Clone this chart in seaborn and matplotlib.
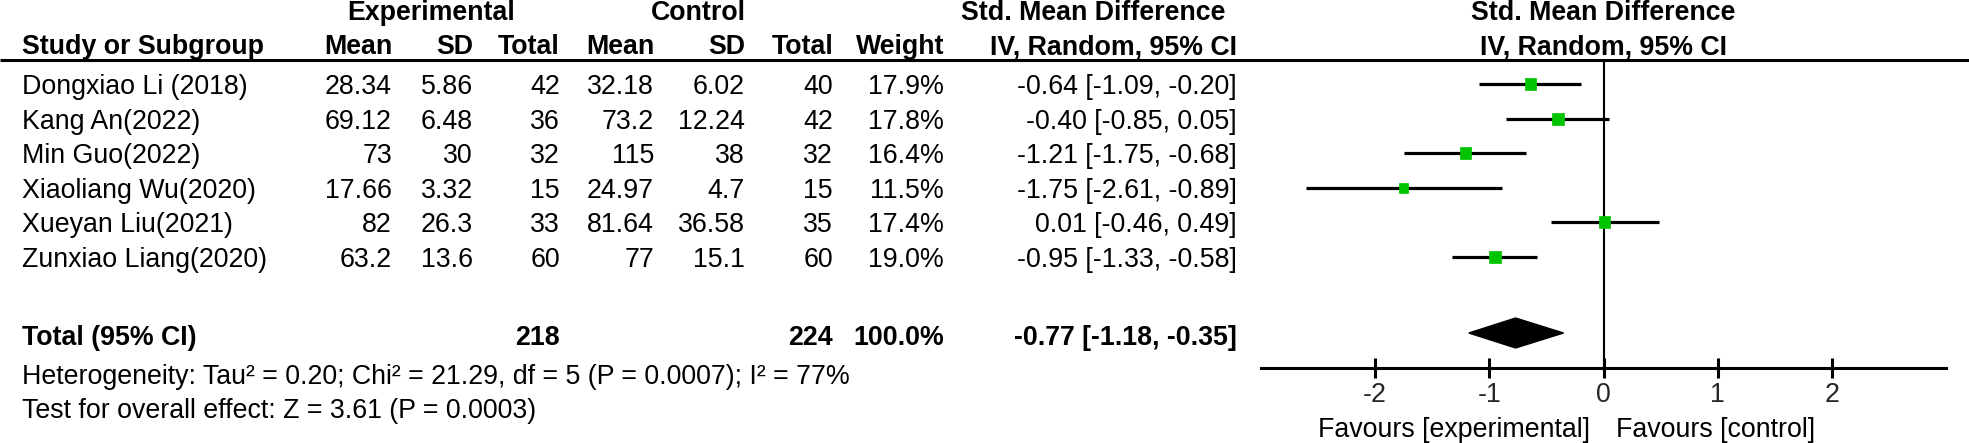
import matplotlib
matplotlib.use("Agg")
import matplotlib.pyplot as plt
import seaborn as sns
import pandas as pd

# ---------------- data ----------------
studies = ["Dongxiao Li (2018)", "Kang An(2022)", "Min Guo(2022)",
           "Xiaoliang Wu(2020)", "Xueyan Liu(2021)", "Zunxiao Liang(2020)"]
exp_mean = ["28.34", "69.12", "73", "17.66", "82", "63.2"]
exp_sd = ["5.86", "6.48", "30", "3.32", "26.3", "13.6"]
exp_total = [42, 36, 32, 15, 33, 60]
ctl_mean = ["32.18", "73.2", "115", "24.97", "81.64", "77"]
ctl_sd = ["6.02", "12.24", "38", "4.7", "36.58", "15.1"]
ctl_total = [40, 42, 32, 15, 35, 60]
weight = [17.9, 17.8, 16.4, 11.5, 17.4, 19.0]
smd = [-0.64, -0.40, -1.21, -1.75, 0.01, -0.95]
ci_low = [-1.09, -0.85, -1.75, -2.61, -0.46, -1.33]
ci_high = [-0.20, 0.05, -0.68, -0.89, 0.49, -0.58]

total_exp = 218
total_ctl = 224
total_weight = "100.0%"
pooled_smd = -0.77
pooled_low = -1.18
pooled_high = -0.35

heterogeneity = "Heterogeneity: Tau\u00b2 = 0.20; Chi\u00b2 = 21.29, df = 5 (P = 0.0007); I\u00b2 = 77%"
overall = "Test for overall effect: Z = 3.61 (P = 0.0003)"
tick_values = [-2, -1, 0, 1, 2]
tick_labels = ["-2", "-1", "0", "1", "2"]

# ---------------- style ----------------
sns.set_theme(style="white")
plt.rcParams["font.family"] = ["Liberation Sans", "DejaVu Sans"]
plt.rcParams["axes.unicode_minus"] = False

W, H = 1969, 443
DPI = 100
FS = 19.3
fig = plt.figure(figsize=(W / DPI, H / DPI), dpi=DPI)
fig.patch.set_facecolor("white")

# table axes in pixel coordinates
ax = fig.add_axes([0, 0, 1, 1])
ax.set_xlim(0, W)
ax.set_ylim(H, 0)
ax.axis("off")

# forest plot axes
x_left_px, x_right_px = 1261, 1946
axf = fig.add_axes([x_left_px / W, 0, (x_right_px - x_left_px) / W, 1])
axf.set_xlim(-3, 3)
axf.set_ylim(H, 0)
axf.patch.set_alpha(0)

row_y = [87, 122, 156, 191, 225, 260]
total_y = 338
header1_y = 13
header2_y = 47
line_y = 60
axis_y = 368

# header rows
bold = dict(fontsize=FS, fontweight="bold", va="center", color="black")
norm = dict(fontsize=FS, va="center", color="black")

ax.text(431, header1_y, "Experimental", ha="center", **bold)
ax.text(698, header1_y, "Control", ha="center", **bold)
ax.text(1225, header1_y, "Std. Mean Difference", ha="right", **bold)

col_right = [392, 473, 560, 654, 745, 833, 944, 1237]
ax.text(22, header2_y, "Study or Subgroup", ha="left", **bold)
for x, lab in zip(col_right, ["Mean", "SD", "Total", "Mean", "SD", "Total",
                              "Weight", "IV, Random, 95% CI"]):
    ax.text(x, header2_y, lab, ha="right", **bold)

axf.text(0, header1_y, "Std. Mean Difference", ha="center", **bold)
axf.text(0, header2_y, "IV, Random, 95% CI", ha="center", **bold)

ax.plot([0, W], [line_y, line_y], color="black", lw=2.2, solid_capstyle="butt")

# study rows
for i, y in enumerate(row_y):
    vals = [exp_mean[i], exp_sd[i], str(exp_total[i]), ctl_mean[i], ctl_sd[i],
            str(ctl_total[i]), f"{weight[i]:.1f}%",
            f"{smd[i]:.2f} [{ci_low[i]:.2f}, {ci_high[i]:.2f}]"]
    ax.text(22, y, studies[i], ha="left", **norm)
    for x, v in zip(col_right, vals):
        ax.text(x, y, v, ha="right", **norm)

# total row
ax.text(22, total_y, "Total (95% CI)", ha="left", **bold)
ax.text(col_right[2], total_y, str(total_exp), ha="right", **bold)
ax.text(col_right[5], total_y, str(total_ctl), ha="right", **bold)
ax.text(col_right[6], total_y, total_weight, ha="right", **bold)
ax.text(col_right[7], total_y,
        f"{pooled_smd:.2f} [{pooled_low:.2f}, {pooled_high:.2f}]", ha="right", **bold)

ax.text(22, 377, heterogeneity, ha="left", **norm)
ax.text(22, 411, overall, ha="left", **norm)

# ---------------- forest plot ----------------
marker_y = [y - 3 for y in row_y]
axf.plot([0, 0], [line_y, axis_y], color="black", lw=1.5, zorder=1)
axf.hlines(marker_y, ci_low, ci_high, color="black", lw=2.3, zorder=2)

df = pd.DataFrame({"smd": smd, "y": marker_y, "w": weight})
sns.scatterplot(data=df, x="smd", y="y", size="w", sizes=(45, 75), marker="s",
                color="#00C400", edgecolor="#00C400", linewidth=0.5,
                legend=False, ax=axf, zorder=3)
axf.set_ylim(H, 0)
axf.set_xlim(-3, 3)

dy = 15
dc = total_y - 5
axf.fill([pooled_low, pooled_smd, pooled_high, pooled_smd],
         [dc, dc - dy, dc, dc + dy], color="black", zorder=3)

# axis
for s in ["top", "left", "right"]:
    axf.spines[s].set_visible(False)
axf.spines["bottom"].set_position(("data", axis_y))
axf.spines["bottom"].set_linewidth(2.2)
axf.spines["bottom"].set_color("black")
axf.set_xticks(tick_values)
axf.set_xticklabels(tick_labels)
axf.set_yticks([])
axf.tick_params(axis="x", direction="inout", length=14, width=2.2,
                color="black", labelsize=FS, pad=3, bottom=True)
axf.set_xlabel("")
axf.set_ylabel("")

axf.text(-0.12, 430, "Favours [experimental]", ha="right", **norm)
axf.text(0.11, 430, "Favours [control]", ha="left", **norm)

fig.savefig("out.png", dpi=DPI, facecolor="white")
